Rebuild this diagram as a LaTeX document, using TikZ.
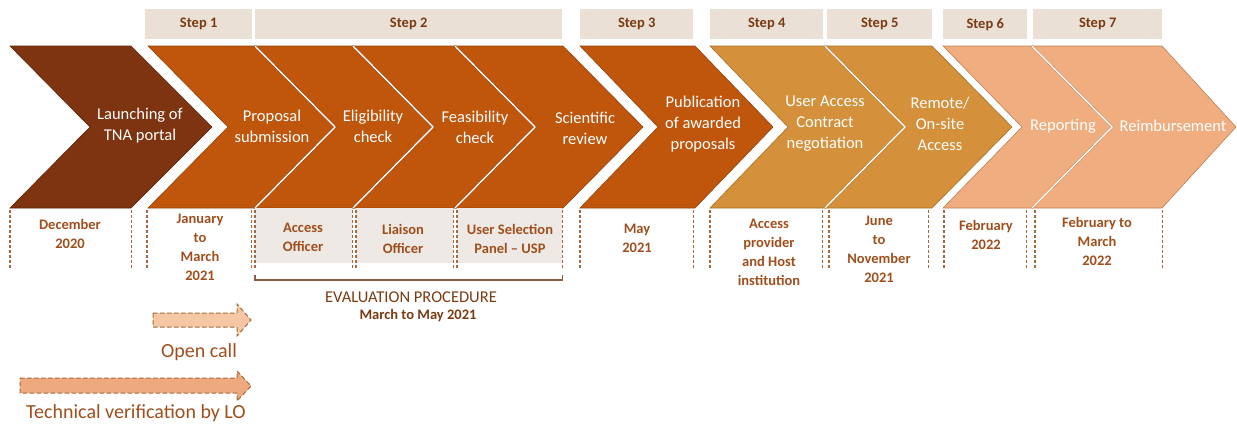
\documentclass[tikz,border=0pt]{standalone}
\usepackage{fontspec}
\setmainfont{Carlito}
\definecolor{cDark}{HTML}{7E3410}
\definecolor{cDarkE}{HTML}{5A2408}
\definecolor{cOrange}{HTML}{C0560C}
\definecolor{cOrangeE}{HTML}{94420A}
\definecolor{cGold}{HTML}{D4903A}
\definecolor{cGoldE}{HTML}{A86E24}
\definecolor{cPeach}{HTML}{F0AE80}
\definecolor{cPeachE}{HTML}{C07E52}
\definecolor{cHead}{HTML}{EAE0D6}
\definecolor{cBox}{HTML}{EEE9E4}
\definecolor{cStep}{HTML}{7B3B12}
\definecolor{cLabel}{HTML}{A04E1C}
\definecolor{cDash}{HTML}{A8683C}
\definecolor{cBracket}{HTML}{8E5E40}
\definecolor{cCallFill}{HTML}{F5C7A5}
\definecolor{cTechFill}{HTML}{EEA97E}

% chevron: left x, right x, notch depth, tip depth, fill, edge
\newcommand\chevron[6]{%
  \filldraw[fill=#5, draw=#6, line width=0.6pt, line join=miter]
    (#1,46) -- (#2,46) -- ({#2+#4},127) -- (#2,208) -- (#1,208) -- ({#1+#3},127) -- cycle;}
% white seam between two touching chevrons
\newcommand\seam[2]{%
  \draw[draw=#2, line width=0.4pt, double=white, double distance=1.4pt]
    (#1,46) -- ({#1+80},127) -- (#1,208);}

\begin{document}
\begin{tikzpicture}[x=1pt, y=-1pt,
  stepbox/.style={fill=cHead, inner sep=0pt, text=cStep,
    font=\bfseries\fontsize{14.5}{17}\selectfont},
  chevtext/.style={text=white, align=center, inner sep=0pt,
    font=\fontsize{16.5}{21}\selectfont},
  datetext/.style={text=cLabel, align=center, inner sep=0pt,
    font=\bfseries\fontsize{14.5}{19}\selectfont},
  datebox/.style={inner sep=0pt, minimum height=60pt, anchor=north west},
  sides/.style={draw=cDash, line width=1.1pt, dash pattern=on 3pt off 2pt},
  blockarrow/.style={draw=cDash, line width=1pt, dash pattern=on 4.5pt off 2.5pt, line join=miter},
  legendtext/.style={text=cLabel, inner sep=0pt, font=\fontsize{20}{24}\selectfont}
]
\useasboundingbox (0,0) rectangle (1237,426);

% step headers
\node[stepbox, minimum width=107pt, minimum height=30pt, anchor=north west] (s1) at (145,9) {Step 1};
\node[stepbox, minimum width=307pt, minimum height=30pt, anchor=north west] (s2) at (255,9) {Step 2};
\node[stepbox, minimum width=113pt, minimum height=30pt, anchor=north west] (s3) at (580,9) {Step 3};
\node[stepbox, minimum width=113pt, minimum height=30pt, anchor=north west] (s4) at (710,9) {Step 4};
\node[stepbox, minimum width=105pt, minimum height=30pt, anchor=north west] (s5) at (827,9) {Step 5};
\node[stepbox, minimum width=84pt, minimum height=30pt, anchor=north west] (s6) at (943,9) {Step 6};
\node[stepbox, minimum width=129pt, minimum height=30pt, anchor=north west] (s7) at (1033,9) {Step 7};

% process chevrons
\chevron{10}{131}{80}{81}{cDark}{cDarkE}
\chevron{148}{255}{80}{80}{cOrange}{cOrangeE}
\chevron{255}{353}{80}{80}{cOrange}{cOrangeE}
\chevron{353}{455}{80}{80}{cOrange}{cOrangeE}
\chevron{455}{563}{80}{80}{cOrange}{cOrangeE}
\chevron{580}{695}{78}{78}{cOrange}{cOrangeE}
\chevron{710}{825}{78}{80}{cGold}{cGoldE}
\chevron{825}{932}{80}{80}{cGold}{cGoldE}
\chevron{943}{1032}{79}{80}{cPeach}{cPeachE}
\chevron{1032}{1162}{80}{74}{cPeach}{cPeachE}
\seam{255}{cOrangeE}
\seam{353}{cOrangeE}
\seam{455}{cOrangeE}
\seam{825}{cGoldE}
\seam{1032}{cPeachE}

\node[chevtext] (launch) at (140,126) {Launching of\\TNA portal};
\node[chevtext] (prop) at (272,126) {Proposal\\submission};
\node[chevtext] (elig) at (373,126) {Eligibility\\check};
\node[chevtext] (feas) at (475,127) {Feasibility\\check};
\node[chevtext] (sci) at (585,128) {Scientific\\review};
\node[chevtext] (pub) at (703,124) {Publication\\of awarded\\proposals};
\node[chevtext] (uac) at (825,124) {User Access\\Contract\\negotiation};
\node[chevtext] (rem) at (940,124) {Remote/\\On-site\\Access};
\node[chevtext] (rep) at (1063,126) {Reporting};
\node[chevtext] (reimb) at (1173,126) {Reimbursement};

% date / responsibility boxes below the chevrons
\node[datebox, minimum width=121pt] (bdec) at (10,208) {};
\node[datebox, minimum width=104pt] (bjan) at (147,208) {};
\node[datebox, minimum width=97pt, fill=cBox, minimum height=55pt] (bao) at (255,208) {};
\node[datebox, minimum width=97pt, fill=cBox, minimum height=55pt] (blo) at (356,208) {};
\node[datebox, minimum width=105pt, fill=cBox, minimum height=55pt] (busp) at (457,208) {};
\node[datebox, minimum width=113pt] (bmay) at (580,208) {};
\node[datebox, minimum width=112pt] (bap) at (710,208) {};
\node[datebox, minimum width=99pt] (bjun) at (829,208) {};
\node[datebox, minimum width=82pt] (bfeb) at (944,208) {};
\node[datebox, minimum width=127pt] (bfm) at (1035,208) {};

\foreach \b in {bdec,bjan,bao,blo,busp,bmay,bap,bjun,bfeb,bfm}{
  \draw[sides] ([yshift=-2pt]\b.north west) -- ([yshift=-60pt]\b.north west);
  \draw[sides] ([yshift=-2pt]\b.north east) -- ([yshift=-60pt]\b.north east);
}

\node[datetext] (tdec) at (70,234) {December\\2020};
\node[datetext] (tjan) at (200,247.5) {January\\to\\March\\2021};
\node[datetext] (tao) at (303,237) {Access\\Officer};
\node[datetext] (tlo) at (403,238.5) {Liaison\\Officer};
\node[datetext] (tusp) at (510,239) {User Selection\\Panel -- USP};
\node[datetext] (tmay) at (637,238) {May\\2021};
\node[datetext] (tap) at (769,252) {Access\\provider\\and Host\\institution};
\node[datetext] (tjun) at (879,249) {June\\to\\November\\2021};
\node[datetext] (tfeb) at (986,235) {February\\2022};
\node[datetext] (tfm) at (1097,241) {February to\\March\\2022};

% evaluation bracket
\draw[draw=cBracket, line width=1.1pt]
  ([yshift=-67pt]bao.north west) -- ([yshift=-72pt]bao.north west)
  -- ([yshift=-72pt]busp.north east) -- ([yshift=-67pt]busp.north east);
\node[text=cStep, inner sep=0pt, font=\fontsize{16.5}{20}\selectfont] (evp) at (411,297) {EVALUATION PROCEDURE};
\node[text=cStep, inner sep=0pt, font=\bfseries\fontsize{14.5}{18}\selectfont] (evd) at (418,316) {March to May 2021};

% legend arrows
\filldraw[blockarrow, fill=cCallFill]
  (153,313) -- (237,313) -- (237,304) -- (251,320) -- (237,336) -- (237,327) -- (153,327) -- cycle;
\node[legendtext] (call) at (199,352) {Open call};
\filldraw[blockarrow, fill=cTechFill]
  (20,378) -- (237,378) -- (237,371) -- (251,386) -- (237,401) -- (237,393) -- (20,393) -- cycle;
\node[legendtext] (tech) at (136,413) {Technical verification by LO};
\end{tikzpicture}
\end{document}
